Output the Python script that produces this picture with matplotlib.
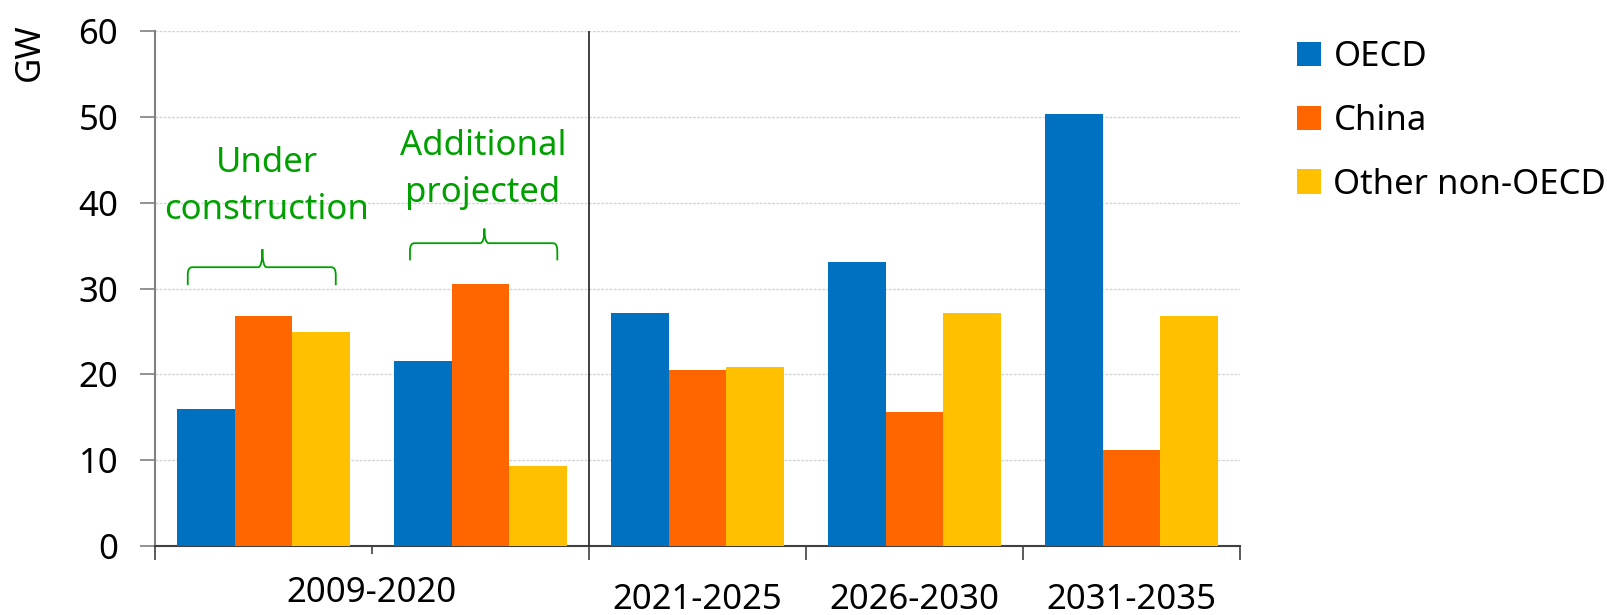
import matplotlib
matplotlib.use("Agg")
import matplotlib.pyplot as plt
from matplotlib.patches import Patch, PathPatch
from matplotlib.path import Path
import matplotlib.transforms as mtransforms

plt.rcParams['font.family'] = ['Noto Sans', 'DejaVu Sans']

# ---------------- data ----------------
categories = ['Under construction', 'Additional projected', '2021-2025', '2026-2030', '2031-2035']
oecd = [16.0, 21.6, 27.2, 33.1, 50.4]
china = [26.8, 30.5, 20.5, 15.6, 11.2]
other = [24.9, 9.3, 20.9, 27.2, 26.8]
series_names = ['OECD', 'China', 'Other non-OECD']
colors = ['#0070C0', '#FF6600', '#FFC000']
period_labels = ['2009-2020', '2021-2025', '2026-2030', '2031-2035']
period_positions = [0.5, 2, 3, 4]
y_ticks = [0, 10, 20, 30, 40, 50, 60]
annot_texts = ['Under\nconstruction', 'Additional\nprojected']

green = '#00A000'
FS = 25

fig = plt.figure(figsize=(16.08, 6.15), dpi=100)
ax = fig.add_axes([155/1608, 1-546/615, (1240-155)/1608, (546-31.3)/615])

x = list(range(len(categories)))
w = 0.8/3
for k, (vals, name, c) in enumerate(zip([oecd, china, other], series_names, colors)):
    ax.bar([xi + (k-1)*w for xi in x], vals, width=w, color=c, label=name,
           linewidth=0, zorder=3)

ax.set_xlim(-0.5, 4.5)
ax.set_ylim(0, 60)
ax.set_yticks(y_ticks)
ax.set_yticklabels([str(t) for t in y_ticks], fontsize=FS)
ax.tick_params(axis='y', length=11, width=1.2, color='#808080', pad=15.5)

# x ticks on slot boundaries
ax.set_xticks([-0.5, 1.5, 2.5, 3.5, 4.5])
ax.set_xticklabels([])
ax.set_xticks([0.5], minor=True)
ax.tick_params(axis='x', which='major', length=10, width=1.2, color='#404040')
ax.tick_params(axis='x', which='minor', length=6, width=1.2, color='#404040')

ax.yaxis.grid(True, color='#d4d4d4', linestyle=(0, (2, 1)), linewidth=1, zorder=0)
ax.set_axisbelow(True)

for s in ['top', 'right']:
    ax.spines[s].set_visible(False)
ax.spines['left'].set_color('#808080')
ax.spines['left'].set_linewidth(1.5)
ax.spines['bottom'].set_color('#404040')
ax.spines['bottom'].set_linewidth(1.5)

# separator between historical and projected
ax.axvline(1.5, color='#202020', linewidth=1.2, zorder=4)

# period labels
trans = mtransforms.blended_transform_factory(ax.transData, ax.transAxes)
for lab, pos in zip(period_labels, period_positions):
    yy = -0.091 if pos == 0.5 else -0.105
    ax.text(pos, yy, lab, transform=trans, ha='center', va='center', fontsize=FS)

# y label
fig.text(30/1608, 1-52/615, 'GW', rotation=90, ha='center', va='center', fontsize=FS)

# braces
def brace(ax, x0, x1, xc, yh, ytip, yend):
    dx = 0.02
    dy = 0.9
    verts = [(x0, yend), (x0, yh - dy), (x0, yh), (x0 + dx, yh),
             (xc - dx, yh), (xc, yh), (xc, ytip),
             (xc, yh), (xc + dx, yh),
             (x1 - dx, yh), (x1, yh), (x1, yh - dy), (x1, yend)]
    codes = [Path.MOVETO, Path.LINETO, Path.CURVE3, Path.CURVE3,
             Path.LINETO, Path.CURVE3, Path.CURVE3,
             Path.CURVE3, Path.CURVE3,
             Path.LINETO, Path.CURVE3, Path.CURVE3, Path.LINETO]
    ax.add_patch(PathPatch(Path(verts, codes), facecolor='none', edgecolor=green,
                           linewidth=1.3, zorder=5))

brace(ax, -0.349, 0.333, -0.005, 32.5, 34.6, 30.4)
brace(ax, 0.675, 1.354, 1.018, 35.3, 37.0, 33.3)

ax.text(0.014, 41.95, annot_texts[0], ha='center', va='center', fontsize=FS,
        color=green, linespacing=1.5)
ax.text(1.012, 43.9, annot_texts[1], ha='center', va='center', fontsize=FS,
        color=green, linespacing=1.5)

handles = [Patch(facecolor=c, edgecolor='none') for c in colors]
fig.legend(handles, series_names, loc='upper left',
           bbox_to_anchor=(1297/1608, 1-40/615), frameon=False, fontsize=FS,
           handlelength=0.7, handleheight=0.7, handletextpad=0.35,
           labelspacing=0.86, borderpad=0, borderaxespad=0)

fig.savefig('out.png', dpi=100)
